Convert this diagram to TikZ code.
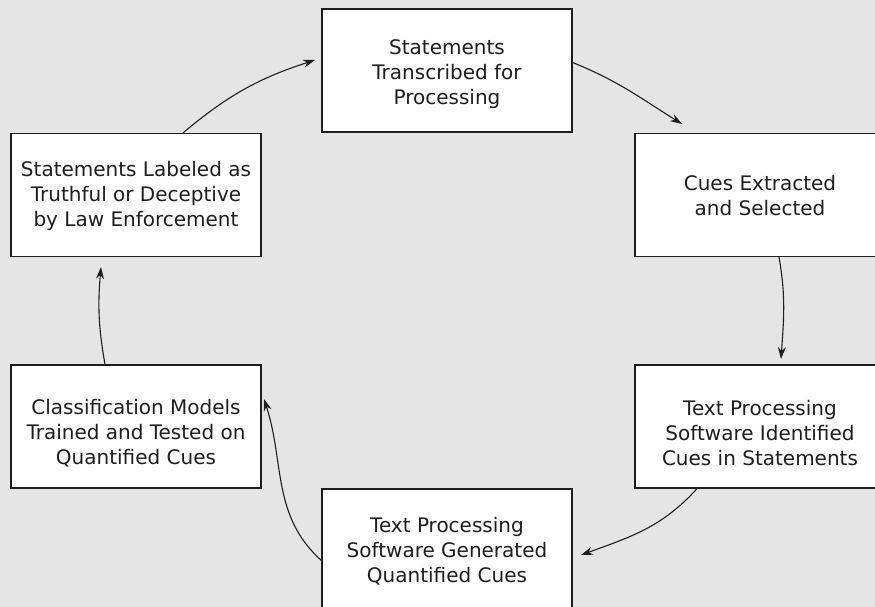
\documentclass[tikz,border=0pt]{standalone}
\usepackage{fontspec}
\setmainfont{DejaVu Sans}
\usetikzlibrary{arrows.meta}
\definecolor{bgc}{RGB}{229,229,229}
\definecolor{ink}{RGB}{30,30,30}
\tikzset{
  stepbox/.style={draw=ink, line width=1.2pt, fill=white, rectangle,
    minimum width=250pt, minimum height=123pt, inner sep=0pt,
    align=center, text=ink, font=\fontsize{20}{25}\selectfont},
  flow/.style={draw=ink, line width=1.1pt, -{Stealth[length=12pt,width=8pt,inset=4pt]}}
}
\begin{document}
\begin{tikzpicture}[x=1pt,y=1pt]
\useasboundingbox (0,0) rectangle (875,-607);
\fill[bgc] (0,0) rectangle (875,-607);
\begin{scope}
\clip (0,0) rectangle (875,-607);
\node[stepbox] (top) at (447,-70.5) {\rule{0pt}{23pt}Statements\\Transcribed for\\Processing};
\node[stepbox] (ru)  at (760,-195) {\rule{0pt}{17pt}Cues Extracted\\and Selected};
\node[stepbox] (rl)  at (760,-426.5) {\rule{0pt}{29pt}Text Processing\\Software Identified\\Cues in Statements};
\node[stepbox] (bot) at (447,-550.5) {\rule{0pt}{17pt}Text Processing\\Software Generated\\Quantified Cues};
\node[stepbox] (ll)  at (136,-426.5) {\rule{0pt}{29pt}Classification Models\\Trained and Tested on\\Quantified Cues};
\node[stepbox] (lu)  at (136,-195) {\rule{0pt}{18pt}Statements Labeled as\\Truthful or Deceptive\\by Law Enforcement};

\coordinate (t1) at (315,-60);
\coordinate (t2) at (682,-124);
\coordinate (t3) at (781,-359);
\coordinate (t4) at (581,-555);
\coordinate (t5) at (264,-399);
\coordinate (t6) at (101,-267);

\draw[flow] ([xshift=47pt]lu.north) to[out=40,in=198] (t1);
\draw[flow] ([yshift=8pt]top.east) to[out=-22,in=148] (t2);
\draw[flow] ([xshift=19pt]ru.south) to[out=-80,in=86] (t3);
\draw[flow] ([xshift=-63pt]rl.south) to[out=-132,in=20] (t4);
\draw[flow] ([yshift=-10pt]bot.west) to[out=138,in=-72] (t5);
\draw[flow] ([xshift=-31pt]ll.north) to[out=100,in=-95] (t6);
\end{scope}
\end{tikzpicture}
\end{document}
